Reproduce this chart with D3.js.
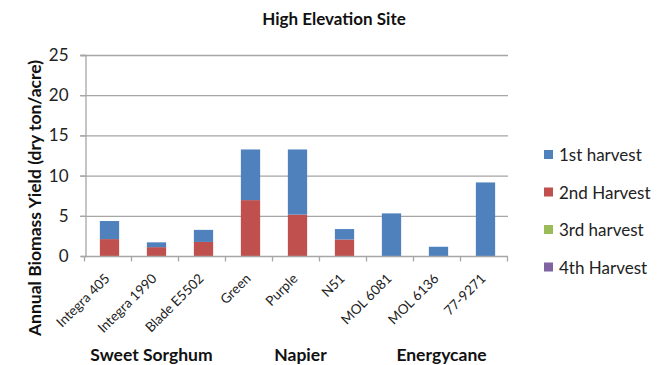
<!DOCTYPE html>
<html>
<head>
<meta charset="utf-8">
<script src="https://cdn.jsdelivr.net/npm/d3@7"></script>
<style>
  body { margin: 0; background: #fff; }
  svg { display: block; font-family: Lato, "Open Sans", sans-serif; }
</style>
</head>
<body>
<svg id="chart" width="667" height="365"></svg>
<script>
// Cultivars along the x axis
const categories = ["Integra 405", "Integra 1990", "Blade E5502", "Green", "Purple", "N51", "MOL 6081", "MOL 6136", "77-9271"];
// Yield per harvest (dry ton/acre)
const harvest1 = [2.25, 0.6, 1.5, 6.3, 8.1, 1.3, 5.3, 1.15, 9.15];
const harvest2 = [2.1, 1.1, 1.75, 6.95, 5.15, 2.05, 0, 0, 0];
const harvest3 = [0, 0, 0, 0, 0, 0, 0, 0, 0];
const harvest4 = [0, 0, 0, 0, 0, 0, 0, 0, 0];
const seriesNames = ["1st harvest", "2nd Harvest", "3rd harvest", "4th Harvest"];
const seriesColors = ["#4F81BD", "#C0504D", "#9BBB59", "#8064A2"];
const yTicks = [0, 5, 10, 15, 20, 25];
// Crop groups spanning consecutive cultivars
const groups = ["Sweet Sorghum", "Napier", "Energycane"];
const groupMembers = [["Integra 405", "Integra 1990", "Blade E5502"], ["Green", "Purple", "N51"], ["MOL 6081", "MOL 6136", "77-9271"]];

const svg = d3.select("#chart");
const plotLeft = 85, plotRight = 508, plotTop = 55, plotBottom = 256;

const x = d3.scaleBand().domain(categories).range([plotLeft, plotRight]).paddingInner(0).paddingOuter(0);
const y = d3.scaleLinear().domain([0, 25]).range([plotBottom, plotTop]);

// Stack order: 2nd harvest at the bottom, then 1st, 3rd, 4th
const rows = categories.map((c, i) => ({
  cat: c, h1: harvest1[i], h2: harvest2[i], h3: harvest3[i], h4: harvest4[i]
}));
const stack = d3.stack().keys(["h2", "h1", "h3", "h4"]);
const stacked = stack(rows);
const keyColor = { h1: seriesColors[0], h2: seriesColors[1], h3: seriesColors[2], h4: seriesColors[3] };

// Gridlines
svg.append("g")
  .selectAll("line")
  .data(yTicks.filter(t => t > 0))
  .join("line")
  .attr("x1", plotLeft - 5).attr("x2", plotRight)
  .attr("y1", d => y(d) + 0.5).attr("y2", d => y(d) + 0.5)
  .attr("stroke", "#a6a6a6").attr("stroke-width", 1.3);

// Y axis
const yAxis = svg.append("g")
  .attr("transform", `translate(${plotLeft + 0.5},0)`)
  .call(d3.axisLeft(y).tickValues(yTicks).tickSize(5).tickPadding(12));
yAxis.select(".domain").attr("stroke", "#a6a6a6").attr("stroke-width", 1.3);
yAxis.selectAll(".tick line").attr("stroke", "#a6a6a6").attr("stroke-width", 1.3);
yAxis.selectAll(".tick text").attr("font-size", 17).attr("fill", "#222").attr("font-family", "Lato, sans-serif");

// Bars
const barW = x.bandwidth() * 0.41;
svg.append("g")
  .selectAll("g")
  .data(stacked)
  .join("g")
  .attr("fill", d => keyColor[d.key])
  .selectAll("rect")
  .data(d => d.filter(p => p[1] - p[0] > 0))
  .join("rect")
  .attr("x", d => x(d.data.cat) + (x.bandwidth() - barW) / 2 + 1)
  .attr("width", barW)
  .attr("y", d => y(d[1]))
  .attr("height", d => y(d[0]) - y(d[1]));

// X axis
const xAxisG = svg.append("g").attr("transform", `translate(0,${plotBottom + 0.5})`);
xAxisG.append("line")
  .attr("x1", plotLeft).attr("x2", plotRight)
  .attr("stroke", "#a6a6a6").attr("stroke-width", 1.3);
xAxisG.selectAll("line.tick")
  .data(d3.range(categories.length + 1))
  .join("line")
  .attr("class", "tick")
  .attr("x1", i => plotLeft + i * x.step() - 0.5).attr("x2", i => plotLeft + i * x.step() - 0.5)
  .attr("y1", 0).attr("y2", 5)
  .attr("stroke", "#a6a6a6").attr("stroke-width", 1.3);
xAxisG.selectAll("text")
  .data(categories)
  .join("text")
  .attr("transform", d => `translate(${x(d) + x.bandwidth() / 2 + 2},${23}) rotate(-45)`)
  .attr("text-anchor", "end")
  .attr("font-size", 13.5)
  .attr("fill", "#222")
  .text(d => d);

// Group labels, centred under their cultivars with a small nudge each
const groupNudge = [-4, 4, 4];
svg.append("g")
  .selectAll("text")
  .data(groups)
  .join("text")
  .attr("x", (g, i) => {
    const m = groupMembers[i];
    return (x(m[0]) + x(m[m.length - 1]) + x.bandwidth()) / 2 + groupNudge[i];
  })
  .attr("y", 361)
  .attr("text-anchor", "middle")
  .attr("font-size", 17.5)
  .attr("font-weight", "bold")
  .attr("fill", "#111")
  .text(d => d);

// Title
svg.append("text")
  .attr("x", 334).attr("y", 25)
  .attr("text-anchor", "middle")
  .attr("font-size", 17)
  .attr("font-weight", "bold")
  .attr("fill", "#111")
  .text("High Elevation Site");

// Y axis title
svg.append("text")
  .attr("transform", "translate(41,198) rotate(-90)")
  .attr("text-anchor", "middle")
  .attr("font-size", 17.5)
  .attr("font-weight", "bold")
  .attr("fill", "#111")
  .text("Annual Biomass Yield (dry ton/acre)");

// Legend
const legend = svg.append("g")
  .selectAll("g")
  .data(seriesNames)
  .join("g")
  .attr("transform", (d, i) => `translate(544,${150 + i * 37.5})`);
legend.append("rect")
  .attr("width", 9).attr("height", 9)
  .attr("fill", (d, i) => seriesColors[i]);
legend.append("text")
  .attr("x", 15).attr("y", 11)
  .attr("font-size", 17)
  .attr("fill", "#222")
  .text(d => d);
</script>
</body>
</html>
